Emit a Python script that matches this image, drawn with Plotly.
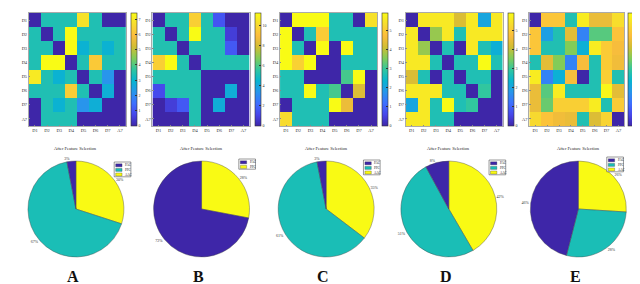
import plotly.graph_objects as go

# ---------------- data ----------------
row_labels = ["D1", "D2", "D3", "D4", "D5", "D6", "D7", "A7"]
col_labels = ["D1", "D2", "D3", "D4", "D5", "D6", "D7", "A7"]

heat_A = [
    [0, 3.4, 3.4, 3.4, 6.8, 3.4, 0, 0],
    [3.4, 0, 3.4, 7.4, 3.4, 3.4, 3.4, 3.4],
    [3.4, 3.4, 0, 7.4, 2.9, 3.4, 2.9, 3.4],
    [3.4, 7.4, 7.4, 0, 3.4, 6.2, 3.4, 3.4],
    [7.0, 3.4, 2.9, 3.4, 0, 3.4, 2.2, 0],
    [3.4, 3.4, 3.4, 6.3, 3.4, 0, 2.8, 0],
    [0, 3.4, 2.9, 3.4, 2.2, 2.8, 0, 0],
    [0, 3.4, 3.4, 3.4, 0, 0, 0, 0],
]
heat_B = [
    [0, 5.2, 5.2, 9.6, 5.2, 1.5, 0, 0],
    [5.2, 0, 5.2, 11.2, 5.2, 5.2, 0.8, 0],
    [5.2, 5.2, 0, 5.2, 5.2, 5.2, 1.6, 0],
    [9.6, 11.2, 5.2, 0, 5.2, 5.2, 5.2, 5.2],
    [5.2, 5.2, 5.2, 5.2, 0, 0, 0, 0],
    [1.2, 5.2, 5.2, 5.2, 0, 0, 4.2, 0],
    [0, 0.8, 1.6, 5.2, 0, 4.2, 0, 0],
    [0, 0, 0, 5.2, 0, 0, 0, 0],
]
heat_C = [
    [0, 5.9, 5.9, 5.9, 2.7, 2.7, 0, 5.4],
    [5.9, 0, 2.7, 5.0, 2.7, 2.7, 2.7, 2.7],
    [5.9, 2.7, 0, 5.9, 0, 5.9, 2.7, 2.7],
    [5.9, 5.1, 5.9, 0, 0, 2.7, 2.7, 2.7],
    [2.7, 2.7, 0, 0, 0, 3.1, 5.9, 0],
    [2.7, 2.7, 5.9, 2.7, 3.1, 0, 4.3, 0],
    [0, 2.7, 2.7, 2.7, 5.9, 4.5, 0, 0],
    [5.3, 2.7, 2.7, 2.7, 0, 0, 0, 0],
]
heat_D = [
    [0, 5.55, 5.55, 5.55, 4.25, 5.55, 2.05, 5.55],
    [5.55, 0, 3.7, 5.55, 2.7, 5.55, 5.55, 5.55],
    [5.55, 3.7, 0, 2.7, 0, 5.55, 2.7, 2.25],
    [5.55, 5.55, 2.7, 0, 2.7, 2.7, 5.9, 2.7],
    [4.25, 2.7, 0, 2.7, 0, 2.7, 2.7, 0],
    [5.55, 5.55, 5.55, 2.7, 2.7, 0, 2.95, 0],
    [2.05, 5.55, 2.7, 5.9, 2.7, 2.95, 0, 0],
    [5.55, 5.55, 2.7, 2.7, 0, 0, 0, 0],
]
heat_E = [
    [0, 5.3, 5.3, 2.95, 6.1, 4.85, 4.85, 5.8],
    [5.3, 2.1, 2.95, 4.75, 1.6, 3.5, 3.5, 5.25],
    [5.3, 2.95, 2.95, 3.85, 2.45, 6.1, 5.4, 5.05],
    [2.95, 4.75, 3.85, 1.6, 5.05, 2.95, 5.4, 4.95],
    [6.1, 1.6, 2.45, 5.05, 0, 2.95, 5.5, 2.95],
    [4.85, 3.5, 6.1, 2.95, 2.95, 2.95, 6.3, 4.75],
    [4.85, 3.65, 5.5, 5.5, 5.5, 6.1, 2.95, 5.4],
    [5.7, 5.25, 4.95, 4.85, 2.95, 4.65, 5.6, 0],
]
heat_max = [7.4, 11.2, 5.9, 5.9, 6.4]
cbar_dtick = [1, 2, 1, 1, 0.5]

pie_labels_3 = ["PAC", "PPC", "AAC"]
pie_labels_2 = ["PAC", "PPC"]
pie_A = [3, 67, 30]
pie_B = [72, 28]
pie_C = [3, 61, 35]
pie_D = [8, 51, 42]
pie_E = [46, 28, 26]
pie_title = "After Feature Selection"
panel_letters = ["A", "B", "C", "D", "E"]

# ---------------- style ----------------
W, H = 640, 284
SERIF = "Liberation Serif"
parula = [
    [0.0, "rgb(62,38,168)"], [0.1, "rgb(71,71,235)"], [0.2, "rgb(62,111,255)"],
    [0.3, "rgb(39,150,235)"], [0.4, "rgb(8,181,208)"], [0.5, "rgb(49,198,159)"],
    [0.6, "rgb(129,204,89)"], [0.7, "rgb(209,189,51)"], [0.8, "rgb(252,189,61)"],
    [0.9, "rgb(247,220,46)"], [1.0, "rgb(249,251,21)"],
]
pie_c3 = ["rgb(62,38,168)", "rgb(26,190,182)", "rgb(249,250,20)"]
pie_c2 = ["rgb(62,38,168)", "rgb(249,250,20)"]

heat_left = [9, 135, 265, 393, 519]
heat_w = [99, 99, 99, 99, 97]
heat_top, heat_bot = 5, 118
cb_gap = [5, 5, 5, 5, 4]
cb_th = 6
cb_font = [4, 4, 4, 4, 3.6]
pie_cx = [57, 185, 312, 437, 569]
pie_top, pie_bot = 153, 249
pie_half_w = 56
title_y = 140
letter_y = 268
legend_pos = [(96, 154), (223, 151), (350, 152), (478, 152), (598, 149)]


def fx(p):
    return p / W


def fy(p):
    return 1 - p / H


fig = go.Figure()
heats = [heat_A, heat_B, heat_C, heat_D, heat_E]
pies = [pie_A, pie_B, pie_C, pie_D, pie_E]
layout = {}
shapes = []
annotations = []

for i in range(5):
    xa = "x" if i == 0 else f"x{i+1}"
    ya = "y" if i == 0 else f"y{i+1}"
    left = heat_left[i]
    hw = heat_w[i]
    fig.add_trace(go.Heatmap(
        z=heats[i], x=col_labels, y=row_labels, xaxis=xa, yaxis=ya,
        colorscale=parula, zmin=0, zmax=heat_max[i], xgap=0, ygap=0,
        colorbar=dict(
            x=fx(left + hw + cb_gap[i]), xanchor="left", xpad=0,
            y=fy(heat_top), yanchor="top", ypad=0,
            len=heat_bot - heat_top, lenmode="pixels",
            thickness=cb_th, thicknessmode="pixels",
            outlinewidth=0.6, outlinecolor="#333",
            tickfont=dict(size=cb_font[i], family=SERIF, color="#333"),
            ticks="inside", ticklen=1.5, tickcolor="#333", tickwidth=0.5,
            tick0=0, dtick=cbar_dtick[i],
        ),
        hoverinfo="skip",
    ))
    axis_common = dict(
        showgrid=False, zeroline=False, showline=True, mirror=True,
        linecolor="#aaaaaa", linewidth=0.6, ticks="inside", ticklen=1.5,
        tickwidth=0.5, tickcolor="#888", type="category",
        tickfont=dict(size=4.5, family=SERIF, color="#333"),
    )
    layout["xaxis" if i == 0 else f"xaxis{i+1}"] = dict(
        domain=[fx(left), fx(left + hw)], anchor=ya, **axis_common)
    layout["yaxis" if i == 0 else f"yaxis{i+1}"] = dict(
        domain=[fy(heat_bot), fy(heat_top)], anchor=xa, autorange="reversed",
        **axis_common)

    labels = pie_labels_2 if i == 1 else pie_labels_3
    colors = pie_c2 if i == 1 else pie_c3
    cx = pie_cx[i]
    # MATLAB order: slices run clockwise from 12 o'clock in reverse legend order
    fig.add_trace(go.Pie(
        labels=labels[::-1], values=pies[i][::-1], sort=False, direction="clockwise",
        rotation=0, marker=dict(colors=colors[::-1], line=dict(color="#444", width=0.4)),
        textposition="outside", texttemplate="%{value}%",
        textfont=dict(size=4, family=SERIF, color="#333"),
        domain=dict(x=[fx(cx - pie_half_w), fx(cx + pie_half_w)],
                    y=[fy(pie_bot), fy(pie_top)]),
        showlegend=False, hoverinfo="skip",
    ))
    annotations.append(dict(
        x=fx(cx), y=fy(title_y), xref="paper", yref="paper", text=pie_title,
        showarrow=False, font=dict(size=4.5, family=SERIF, color="#222"),
        xanchor="center", yanchor="middle"))
    annotations.append(dict(
        x=fx(cx - 3), y=fy(letter_y), xref="paper", yref="paper",
        text=f"<b>{panel_letters[i]}</b>", showarrow=False,
        font=dict(size=16, family=SERIF, color="#111"),
        xanchor="center", yanchor="middle"))

    # small MATLAB-style legend box
    lx, ly = legend_pos[i]
    n = len(labels)
    row_h = 4.6
    lw = 17
    shapes.append(dict(type="rect", xref="paper", yref="paper",
                       x0=fx(lx), x1=fx(lx + lw), y0=fy(ly + 1 + n * row_h), y1=fy(ly),
                       line=dict(color="#333", width=0.5), fillcolor="white"))
    for k in range(n):
        yc = ly + 1 + row_h * (k + 0.5)
        shapes.append(dict(type="rect", xref="paper", yref="paper",
                           x0=fx(lx + 1.5), x1=fx(lx + 8), y0=fy(yc + 1.5), y1=fy(yc - 1.5),
                           line=dict(color="#333", width=0.3), fillcolor=colors[k]))
        annotations.append(dict(
            x=fx(lx + 9), y=fy(yc), xref="paper", yref="paper", text=labels[k],
            showarrow=False, font=dict(size=3.2, family=SERIF, color="#222"),
            xanchor="left", yanchor="middle"))

fig.update_layout(
    width=W, height=H, margin=dict(l=0, r=0, t=0, b=0),
    paper_bgcolor="white", plot_bgcolor="white",
    shapes=shapes, annotations=annotations, **layout,
)
fig.write_html("out.html")
